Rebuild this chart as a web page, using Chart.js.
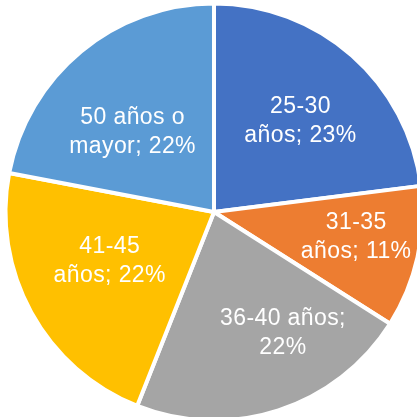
<!DOCTYPE html>
<html>
<head>
<meta charset="utf-8">
<script src="https://cdn.jsdelivr.net/npm/chart.js@4/dist/chart.umd.min.js"></script>
<style>
  html, body { margin: 0; padding: 0; background: #fff; overflow: hidden; width: 417px; height: 417px; }
  #wrap { position: absolute; left: 0; top: 0; width: 428px; height: 424px; }
</style>
</head>
<body>
<div id="wrap"><canvas id="pie"></canvas></div>
<script>
// age groups and their share (%)
const categories = ['25-30 años', '31-35 años', '36-40 años', '41-45 años', '50 años o mayor'];
const shares = [23, 11, 22, 22, 22];
// label text as wrapped in the original
const labelLines = [
  ['25-30', 'años; 23%'],
  ['31-35', 'años; 11%'],
  ['36-40 años;', '22%'],
  ['41-45', 'años; 22%'],
  ['50 años o', 'mayor; 22%'],
];
const colors = ['#4472C4', '#ED7D31', '#A5A5A5', '#FFC000', '#5B9BD5'];

// nudges (px) from the default label anchor, per slice
const labelNudge = [[1, 6], [16, -3], [29, -2], [9, -13], [1, 20]];

const sliceLabels = {
  id: 'sliceLabels',
  afterDatasetsDraw(chart) {
    const ctx = chart.ctx;
    const meta = chart.getDatasetMeta(0);
    ctx.save();
    ctx.font = '23px "Liberation Sans", Arial, sans-serif';
    if ('letterSpacing' in ctx) ctx.letterSpacing = '0.4px';
    ctx.fillStyle = '#ffffff';
    ctx.textAlign = 'center';
    ctx.textBaseline = 'middle';
    meta.data.forEach((arc, i) => {
      const p = arc.getProps(['x', 'y', 'startAngle', 'endAngle', 'outerRadius'], true);
      const mid = (p.startAngle + p.endAngle) / 2;
      const r = p.outerRadius * 0.62;
      const cx = p.x + Math.cos(mid) * r + labelNudge[i][0];
      const cy = p.y + Math.sin(mid) * r + labelNudge[i][1];
      const lines = labelLines[i];
      const lh = 28.5;
      lines.forEach((t, k) => {
        ctx.fillText(t, cx, cy + (k - (lines.length - 1) / 2) * lh);
      });
    });
    ctx.restore();
  }
};

new Chart(document.getElementById('pie'), {
  type: 'pie',
  data: {
    labels: categories,
    datasets: [{
      data: shares,
      backgroundColor: colors,
      borderColor: '#ffffff',
      borderWidth: 4,
    }],
  },
  options: {
    responsive: true,
    maintainAspectRatio: false,
    animation: false,
    radius: 208.5,
    layout: { padding: 0 },
    plugins: { legend: { display: false }, tooltip: { enabled: false } },
  },
  plugins: [sliceLabels],
});
</script>
</body>
</html>
